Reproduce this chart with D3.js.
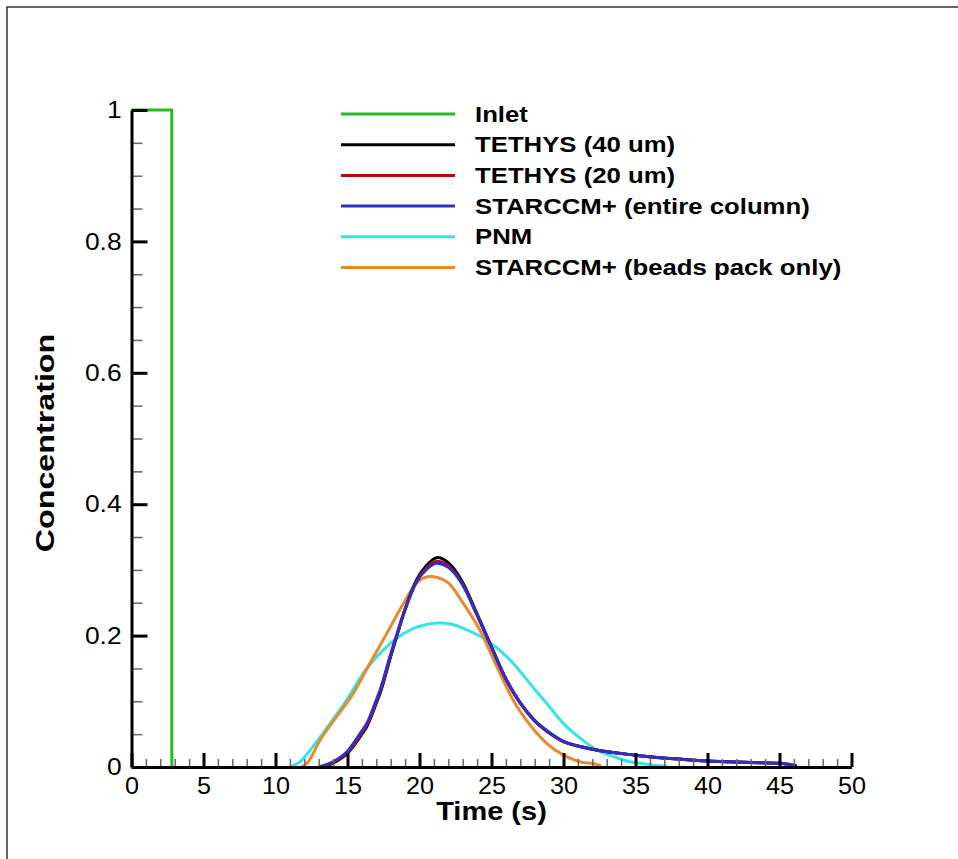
<!DOCTYPE html>
<html>
<head>
<meta charset="utf-8">
<script src="https://cdn.jsdelivr.net/npm/d3@7"></script>
<style>
  body { margin: 0; background: #fff; }
  svg text { font-family: Arial, "Liberation Sans", sans-serif; fill: #000; }
</style>
</head>
<body>
<div id="chart"></div>
<script>
// series (time in s, concentration)
const inletT = [0, 2.8, 2.8];
const inletC = [1, 1, 0];

const tethys40T = [13.2, 14, 15, 16, 16.33, 17, 17.26, 18, 18.5, 19, 19.8, 20.5, 21.26, 22, 23, 24, 25, 26, 27, 28, 29, 30, 31, 32, 35, 38, 40, 43, 45, 46.2];
const tethys40C = [0, 0.006, 0.021, 0.05, 0.061, 0.097, 0.112, 0.168, 0.205, 0.24, 0.285, 0.307, 0.319, 0.311, 0.281, 0.233, 0.183, 0.134, 0.097, 0.070, 0.052, 0.0385, 0.032, 0.027, 0.018, 0.012, 0.009, 0.007, 0.0056, 0.002];

const tethys20T = [13.1, 14, 15, 16, 16.33, 17, 17.26, 18, 18.5, 19, 19.8, 20.5, 21.2, 22, 23, 24, 25, 26, 27, 28, 29, 30, 31, 32, 35, 38, 40, 43, 45, 46.1];
const tethys20C = [0, 0.007, 0.022, 0.052, 0.063, 0.099, 0.114, 0.17, 0.206, 0.24, 0.283, 0.303, 0.313, 0.306, 0.278, 0.231, 0.182, 0.134, 0.097, 0.070, 0.052, 0.0385, 0.032, 0.027, 0.018, 0.012, 0.009, 0.007, 0.0056, 0.002];

const starEntireT = [13, 14, 15, 16, 16.33, 17, 17.26, 18, 18.5, 19, 19.8, 20.5, 21.2, 22, 23, 24, 25, 26, 27, 28, 29, 30, 31, 32, 35, 38, 40, 43, 45, 46];
const starEntireC = [0, 0.008, 0.024, 0.055, 0.066, 0.102, 0.117, 0.172, 0.207, 0.24, 0.282, 0.301, 0.310, 0.304, 0.277, 0.231, 0.182, 0.134, 0.098, 0.071, 0.053, 0.039, 0.032, 0.027, 0.018, 0.012, 0.009, 0.007, 0.0056, 0.002];

const pnmT = [11, 11.7, 12.6, 13.78, 14.94, 16.1, 17.26, 18.42, 19.57, 20.5, 21.42, 22.3, 23.04, 24.67, 26.5, 27.67, 28.83, 30, 31.15, 32.3, 33.46, 34.6, 35.5, 37.2];
const pnmC = [0, 0.008, 0.031, 0.066, 0.102, 0.143, 0.173, 0.196, 0.211, 0.217, 0.219, 0.217, 0.211, 0.193, 0.158, 0.127, 0.097, 0.066, 0.044, 0.026, 0.016, 0.008, 0.005, 0.001];

const beadsT = [11.8, 12.2, 13.1, 14.25, 15.4, 16.56, 17.72, 18.88, 19.8, 20.7, 21.9, 23.04, 24.2, 25.36, 26.5, 27.67, 28.83, 30, 31.1, 32.3, 32.6];
const beadsC = [0, 0.006, 0.041, 0.077, 0.112, 0.158, 0.203, 0.249, 0.280, 0.290, 0.282, 0.249, 0.208, 0.153, 0.102, 0.064, 0.036, 0.018, 0.008, 0.004, 0.002];

const seriesNames = ["Inlet", "TETHYS (40 um)", "TETHYS (20 um)", "STARCCM+ (entire column)", "PNM", "STARCCM+ (beads pack only)"];
const seriesColors = ["#22bb22", "#000000", "#b80c0c", "#2f2fc8", "#35e3ea", "#e8892c"];

const xTicks = [0, 5, 10, 15, 20, 25, 30, 35, 40, 45, 50];
const yTicks = [0, 0.2, 0.4, 0.6, 0.8, 1];
const yTickLabels = ["0", "0.2", "0.4", "0.6", "0.8", "1"];

const width = 958, height = 859;

const svg = d3.select("#chart").append("svg")
  .attr("width", width)
  .attr("height", height);

// thin frame on top and left
svg.append("path")
  .attr("d", `M7,${height} L7,7 L${width},7`)
  .attr("fill", "none")
  .attr("stroke", "#333")
  .attr("stroke-width", 1.5);

const x = d3.scaleLinear().domain([0, 50]).range([131.5, 851.5]);
const y = d3.scaleLinear().domain([0, 1]).range([767, 110]);

const allSeries = [
  [inletT, inletC],
  [tethys40T, tethys40C],
  [tethys20T, tethys20C],
  [starEntireT, starEntireC],
  [pnmT, pnmC],
  [beadsT, beadsC]
];

const smooth = d3.line()
  .x(d => x(d[0]))
  .y(d => y(d[1]))
  .curve(d3.curveMonotoneX);
const straight = d3.line()
  .x(d => x(d[0]))
  .y(d => y(d[1]));

// draw order: inlet, PNM, beads, black, red, blue on top
const drawOrder = [0, 4, 5, 1, 2, 3];
drawOrder.forEach(function (i) {
  const pts = allSeries[i][0].map((t, j) => [t, allSeries[i][1][j]]);
  svg.append("path")
    .attr("d", i === 0 ? straight(pts) : smooth(pts))
    .attr("fill", "none")
    .attr("stroke", seriesColors[i])
    .attr("stroke-width", 3)
    .attr("stroke-linejoin", "round");
});

// minor ticks
const xMinor = d3.range(0, 51, 1).filter(v => v % 5 !== 0);
const yMinor = d3.range(0, 21, 1).map(v => v * 0.05).filter((v, i) => i % 4 !== 0);

svg.append("g")
  .attr("transform", `translate(0,${y(0)})`)
  .call(d3.axisBottom(x).tickValues(xMinor).tickSize(-8).tickFormat(""))
  .call(g => g.select(".domain").remove())
  .call(g => g.selectAll("line").attr("stroke", "#666").attr("stroke-width", 1.5));

svg.append("g")
  .attr("transform", `translate(${x(0)},0)`)
  .call(d3.axisLeft(y).tickValues(yMinor).tickSize(-11).tickFormat(""))
  .call(g => g.select(".domain").remove())
  .call(g => g.selectAll("line").attr("stroke", "#666").attr("stroke-width", 1.5));

// major axes (the original font is wider than Arial, so labels get a horizontal stretch)
svg.append("g")
  .attr("transform", `translate(0,${y(0)})`)
  .call(d3.axisBottom(x).tickValues(xTicks).tickSizeInner(-14).tickSizeOuter(0).tickPadding(10).tickFormat(d3.format("d")))
  .call(g => g.select(".domain").attr("stroke", "#000").attr("stroke-width", 3))
  .call(g => g.selectAll(".tick line").attr("stroke", "#000").attr("stroke-width", 3))
  .call(g => g.selectAll("text").attr("font-size", 24).attr("transform", "scale(1.05,1)")
    .attr("font-family", "Arial, 'Liberation Sans', sans-serif"));

svg.append("g")
  .attr("transform", `translate(${x(0)},0)`)
  .call(d3.axisLeft(y).tickValues(yTicks).tickSizeInner(-16).tickSizeOuter(0).tickPadding(10)
    .tickFormat((d, i) => yTickLabels[i]))
  .call(g => g.select(".domain").attr("stroke", "#000").attr("stroke-width", 3))
  .call(g => g.selectAll(".tick line").attr("stroke", "#000").attr("stroke-width", 3))
  .call(g => g.selectAll("text").attr("font-size", 24).attr("x", -9).attr("transform", "scale(1.1,1)")
    .attr("font-family", "Arial, 'Liberation Sans', sans-serif"));

// axis titles
svg.append("text")
  .attr("transform", `translate(${x(25)},820) scale(1.16,1)`)
  .attr("text-anchor", "middle")
  .attr("font-size", 25)
  .attr("font-weight", "bold")
  .text("Time (s)");

svg.append("text")
  .attr("transform", `translate(54,443) rotate(-90) scale(1.24,1)`)
  .attr("text-anchor", "middle")
  .attr("font-size", 26)
  .attr("font-weight", "bold")
  .text("Concentration");

// legend
const legend = svg.append("g").attr("transform", "translate(341,114)");
seriesNames.forEach(function (name, i) {
  const row = legend.append("g").attr("transform", `translate(0,${i * 30.7})`);
  row.append("line")
    .attr("x1", 0).attr("x2", 114)
    .attr("stroke", seriesColors[i])
    .attr("stroke-width", 3);
  row.append("text")
    .attr("transform", "translate(134,7.5) scale(1.17,1)")
    .attr("font-size", 22)
    .attr("font-weight", "bold")
    .text(name);
});
</script>
</body>
</html>
